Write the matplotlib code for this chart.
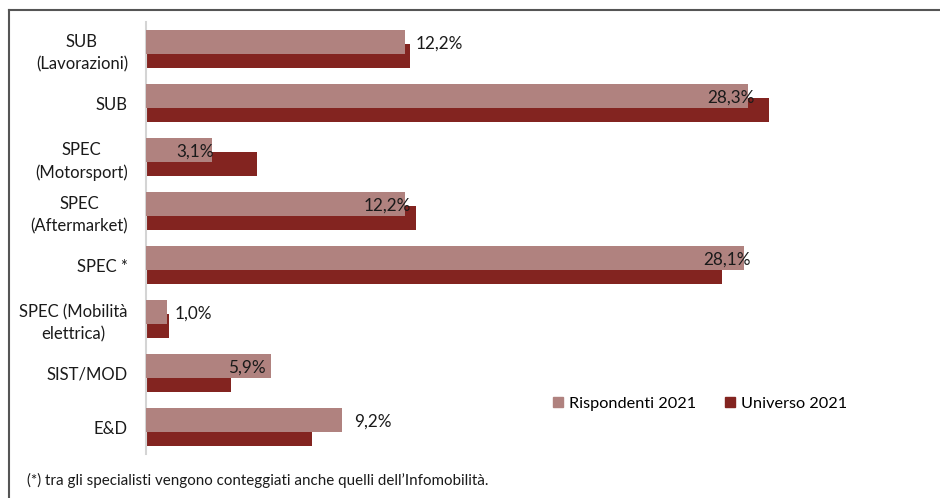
"""Distribuzione per categoria: Rispondenti vs Universo 2021."""

import numpy as np
import matplotlib.pyplot as plt
from matplotlib.lines import Line2D
from matplotlib.patches import Patch

plt.rcParams['font.family'] = ['Lato', 'DejaVu Sans']

categories = ['SUB\n(Lavorazioni)', 'SUB', 'SPEC\n(Motorsport)', 'SPEC\n(Aftermarket)',
              'SPEC *', 'SPEC (Mobilità\nelettrica)', 'SIST/MOD', 'E&D']
rispondenti = [12.2, 28.3, 3.1, 12.2, 28.1, 1.0, 5.9, 9.2]
universo = [12.4, 29.3, 5.2, 12.7, 27.1, 1.1, 4.0, 7.8]
labels = ['12,2%', '28,3%', '3,1%', '12,2%', '28,1%', '1,0%', '5,9%', '9,2%']

C_RISP = '#b0827f'
C_UNIV = '#832420'
TXT = '#1a1a1a'

W, H = 940, 498
fig = plt.figure(figsize=(W / 100, H / 100), dpi=100)
# axes placed in pixel terms: left spine at x=146, y from 22 to 454
ax = fig.add_axes([146 / W, 1 - 454 / H, (935 - 146) / W, (454 - 22) / H])

y = np.arange(len(categories))
h = 0.43
off = 0.13
ax.barh(y + off, universo, h, color=C_UNIV, zorder=2)
ax.barh(y - off, rispondenti, h, color=C_RISP, zorder=3)

ax.set_ylim(len(categories) - 0.5, -0.5)
ax.set_xlim(0, (935 - 146) / 21.27)
ax.set_yticks(y)
ax.set_yticklabels(categories, fontsize=12, color=TXT)
for t in ax.get_yticklabels():
    t.set_multialignment('center')
    t.set_linespacing(1.45)
ax.tick_params(axis='y', length=0, pad=13)
ax.set_xticks([])
for s in ['top', 'right', 'bottom']:
    ax.spines[s].set_visible(False)
ax.spines['left'].set_color('#d4d4d4')
ax.spines['left'].set_linewidth(1.5)

# label placement (horizontal alignment, offset in points) as in the source
placement = [('left', 7), ('right', 5), ('right', 1), ('right', 4),
             ('right', 5), ('left', 5), ('right', -4), ('left', 9)]
for i, (v, lab) in enumerate(zip(rispondenti, labels)):
    ha, dx = placement[i]
    ax.annotate(lab, (v, y[i] - off + 0.03), xytext=(dx, 0), textcoords='offset points',
                ha=ha, va='center', fontsize=12.3, color=TXT, zorder=5)

handles = [Patch(color=C_RISP, label='Rispondenti 2021'),
           Patch(color=C_UNIV, label='Universo 2021')]
fig.legend(handles=handles, loc='center', bbox_to_anchor=(700 / W, 1 - 404 / H),
           ncol=2, frameon=False, fontsize=11.7, handlelength=0.6, handleheight=0.6,
           handletextpad=0.35, columnspacing=1.8)

fig.text(27 / W, 1 - 480 / H,
         "(*) tra gli specialisti vengono conteggiati anche quelli dell\u2019Infomobilità.",
         ha='left', va='center', fontsize=10.9, color=TXT)

# outer frame (top and left edges visible)
fig.add_artist(Line2D([9 / W, 1], [1 - 10 / H, 1 - 10 / H], color='#555555', lw=1.5))
fig.add_artist(Line2D([9 / W, 9 / W], [0, 1 - 10 / H], color='#555555', lw=1.5))

fig.savefig('out.png', dpi=100)
